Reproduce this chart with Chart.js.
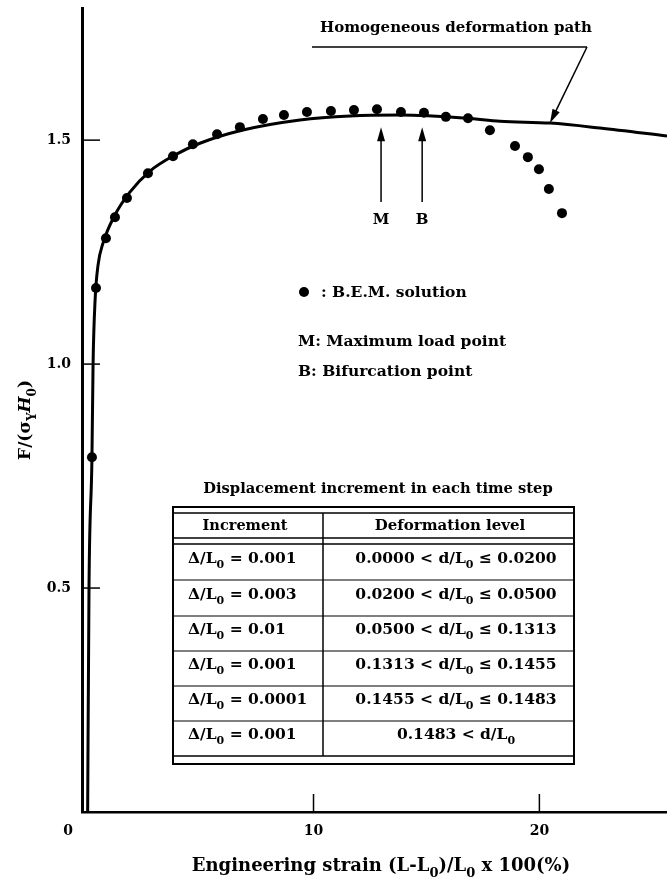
<!DOCTYPE html>
<html>
<head>
<meta charset="utf-8">
<script src="https://cdn.jsdelivr.net/npm/chart.js@4.4.1/dist/chart.umd.min.js"></script>
<style>
  html, body { margin: 0; padding: 0; background: #fff; }
  canvas { display: block; }
</style>
</head>
<body>
<canvas id="strain-chart" width="667" height="886"></canvas>
<script>
// homogeneous deformation path: strain (%) and F/(sigma_Y H_0)
const pathStrain = [0, 0.06, 0.19, 0.24, 0.33, 0.46, 0.68, 1.21, 1.87, 2.76, 3.87, 4.97, 6.83, 9.40, 11.62, 13.83, 16.79, 18.26, 20.47, 22.68, 25.65];
const pathLoad = [0, 0.5, 0.79, 1.0, 1.143, 1.221, 1.27, 1.333, 1.384, 1.431, 1.467, 1.493, 1.522, 1.545, 1.554, 1.556, 1.549, 1.542, 1.538, 1.527, 1.509];

// B.E.M. solution dots
const bemStrain = [0.19, 0.37, 0.81, 1.21, 1.74, 2.67, 3.78, 4.66, 5.73, 6.74, 7.76, 8.69, 9.71, 10.77, 11.79, 12.81, 13.87, 14.89, 15.86, 16.84, 17.81, 18.92, 19.49, 19.98, 20.42, 21.00];
const bemLoad = [0.792, 1.170, 1.281, 1.328, 1.371, 1.426, 1.464, 1.491, 1.513, 1.529, 1.547, 1.556, 1.563, 1.565, 1.567, 1.569, 1.563, 1.561, 1.552, 1.549, 1.522, 1.487, 1.462, 1.435, 1.391, 1.337];

const xTicks = [10, 20];
const yTicks = [0.5, 1.0, 1.5];

// maximum load point and bifurcation point
const markNames = ['M', 'B'];
const markStrain = [12.99, 14.81];

// table
const tableTitle = 'Displacement increment in each time step';
const tableHeader = ['Increment', 'Deformation level'];
const incrementLabels = ['Δ/L_{0} = 0.001', 'Δ/L_{0} = 0.003', 'Δ/L_{0} = 0.01', 'Δ/L_{0} = 0.001', 'Δ/L_{0} = 0.0001', 'Δ/L_{0} = 0.001'];
const levelLabels = ['0.0000 < d/L_{0} ≤ 0.0200', '0.0200 < d/L_{0} ≤ 0.0500', '0.0500 < d/L_{0} ≤ 0.1313', '0.1313 < d/L_{0} ≤ 0.1455', '0.1455 < d/L_{0} ≤ 0.1483', '0.1483 < d/L_{0}'];

const FONT = '"DejaVu Serif"';

function splitRich(str) {
  return str.split(/(_\{[^}]*\}|\*\{[^}]*\})/).filter((s) => s).map((s) => {
    if (s.startsWith('_{')) return { t: s.slice(2, -1), sub: true };
    if (s.startsWith('*{')) return { t: s.slice(2, -1), it: true };
    return { t: s };
  });
}

function richFont(p, size) {
  return (p.it ? 'italic ' : '') + 'bold ' + (p.sub ? Math.round(size * 0.72) : size) + 'px ' + FONT;
}

function drawRich(ctx, str, x, y, size, align) {
  const parts = splitRich(str);
  let w = 0;
  parts.forEach((p) => {
    ctx.font = richFont(p, size);
    p.w = ctx.measureText(p.t).width;
    w += p.w;
  });
  let cx = align === 'center' ? x - w / 2 : align === 'right' ? x - w : x;
  ctx.textAlign = 'left';
  ctx.textBaseline = 'middle';
  parts.forEach((p) => {
    ctx.font = richFont(p, size);
    ctx.fillText(p.t, cx, y + (p.sub ? size * 0.4 : 0));
    cx += p.w;
  });
}

function arrow(ctx, x1, y1, x2, y2) {
  const a = Math.atan2(y2 - y1, x2 - x1);
  ctx.beginPath();
  ctx.moveTo(x1, y1);
  ctx.lineTo(x2 - 8 * Math.cos(a), y2 - 8 * Math.sin(a));
  ctx.stroke();
  ctx.beginPath();
  ctx.moveTo(x2, y2);
  ctx.lineTo(x2 - 14 * Math.cos(a) + 4 * Math.sin(a), y2 - 14 * Math.sin(a) - 4 * Math.cos(a));
  ctx.lineTo(x2 - 14 * Math.cos(a) - 4 * Math.sin(a), y2 - 14 * Math.sin(a) + 4 * Math.cos(a));
  ctx.closePath();
  ctx.fill();
}

const decorations = {
  id: 'decorations',
  afterDraw(chart) {
    const ctx = chart.ctx;
    const xs = chart.scales.x;
    const ys = chart.scales.y;
    const area = chart.chartArea;
    ctx.save();
    ctx.fillStyle = '#000';
    ctx.strokeStyle = '#000';

    // inward ticks
    ctx.lineWidth = 1.5;
    yTicks.forEach((v) => {
      const py = ys.getPixelForValue(v);
      ctx.beginPath();
      ctx.moveTo(area.left, py);
      ctx.lineTo(area.left + 18, py);
      ctx.stroke();
    });
    xTicks.forEach((v) => {
      const px = xs.getPixelForValue(v);
      ctx.beginPath();
      ctx.moveTo(px, area.bottom);
      ctx.lineTo(px, area.bottom - 18);
      ctx.stroke();
    });

    // origin label
    ctx.font = 'bold 14px ' + FONT;
    ctx.textAlign = 'center';
    ctx.textBaseline = 'middle';
    ctx.fillText('0', 68, 831);

    // axis titles
    drawRich(ctx, 'Engineering strain (L-L_{0})/L_{0} x 100(%)', 381, 866, 18, 'center');
    ctx.save();
    ctx.translate(26, 420);
    ctx.rotate(-Math.PI / 2);
    drawRich(ctx, 'F/(σ_{Y}*{H}_{0})', 0, 0, 17, 'center');
    ctx.restore();

    // homogeneous path label with leader
    drawRich(ctx, 'Homogeneous deformation path', 456, 28, 15, 'center');
    ctx.lineWidth = 1.5;
    ctx.beginPath();
    ctx.moveTo(312, 47);
    ctx.lineTo(587, 47);
    ctx.stroke();
    arrow(ctx, 587, 47, xs.getPixelForValue(20.47), ys.getPixelForValue(1.538));

    // M and B arrows
    markNames.forEach((name, i) => {
      const px = xs.getPixelForValue(markStrain[i]);
      ctx.lineWidth = 1.5;
      arrow(ctx, px, ys.getPixelForValue(1.362), px, ys.getPixelForValue(1.529));
      drawRich(ctx, name, px, ys.getPixelForValue(1.321), 15, 'center');
    });

    // legend notes
    ctx.beginPath();
    ctx.arc(304, 292, 5, 0, Math.PI * 2);
    ctx.fill();
    drawRich(ctx, ': B.E.M. solution', 321, 293, 15.5, 'left');
    drawRich(ctx, 'M: Maximum load point', 298, 342, 15.5, 'left');
    drawRich(ctx, 'B: Bifurcation point', 298, 372, 15.5, 'left');

    // table
    const L = 173, R = 574, C = 323;
    const rowLines = [580, 616, 651, 686, 721];
    drawRich(ctx, tableTitle, 378, 489, 14.7, 'center');
    ctx.lineWidth = 2;
    ctx.strokeRect(L, 507, R - L, 257);
    ctx.lineWidth = 1.5;
    [513, 538, 544, 756].forEach((y) => {
      ctx.beginPath();
      ctx.moveTo(L, y);
      ctx.lineTo(R, y);
      ctx.stroke();
    });
    ctx.lineWidth = 1.2;
    rowLines.forEach((y) => {
      ctx.beginPath();
      ctx.moveTo(L, y);
      ctx.lineTo(R, y);
      ctx.stroke();
    });
    ctx.lineWidth = 1.5;
    ctx.beginPath();
    ctx.moveTo(C, 513);
    ctx.lineTo(C, 756);
    ctx.stroke();
    drawRich(ctx, tableHeader[0], 245, 526, 14.5, 'center');
    drawRich(ctx, tableHeader[1], 450, 526, 15, 'center');
    const rowMid = [561, 597, 632, 667, 702, 737];
    incrementLabels.forEach((t, i) => {
      drawRich(ctx, t, 188, rowMid[i] - 2, 15.5, 'left');
      drawRich(ctx, levelLabels[i], 456, rowMid[i] - 2, 15.5, 'center');
    });

    ctx.restore();
  }
};

const ctx = document.getElementById('strain-chart').getContext('2d');
new Chart(ctx, {
  type: 'scatter',
  data: {
    datasets: [
      {
        label: 'Homogeneous deformation path',
        data: pathStrain.map((x, i) => ({ x: x, y: pathLoad[i] })),
        showLine: true,
        borderColor: '#000',
        borderWidth: 3,
        pointRadius: 0,
        cubicInterpolationMode: 'monotone',
      },
      {
        label: 'B.E.M. solution',
        data: bemStrain.map((x, i) => ({ x: x, y: bemLoad[i] })),
        showLine: false,
        pointRadius: 5,
        pointBackgroundColor: '#000',
        pointBorderWidth: 0,
      },
    ],
  },
  options: {
    responsive: false,
    animation: false,
    devicePixelRatio: 1,
    layout: { autoPadding: false, padding: { top: 8, right: 0, left: 0, bottom: 0 } },
    plugins: { legend: { display: false }, tooltip: { enabled: false } },
    scales: {
      x: {
        type: 'linear',
        min: -0.25,
        max: 25.65,
        afterFit: (scale) => {
          scale.height = 74;
          scale.paddingLeft = 0;
          scale.paddingRight = 0;
        },
        afterBuildTicks: (scale) => { scale.ticks = xTicks.map((v) => ({ value: v })); },
        grid: { display: false, drawTicks: false },
        border: { color: '#000', width: 2.5 },
        ticks: { color: '#000', font: { family: 'DejaVu Serif', size: 14, weight: 'bold' }, padding: 11, maxRotation: 0 },
      },
      y: {
        type: 'linear',
        min: 0,
        max: 1.795,
        afterFit: (scale) => {
          scale.width = 82;
          scale.paddingTop = 0;
          scale.paddingBottom = 0;
        },
        afterBuildTicks: (scale) => { scale.ticks = yTicks.map((v) => ({ value: v })); },
        grid: { display: false, drawTicks: false },
        border: { color: '#000', width: 3 },
        ticks: { color: '#000', font: { family: 'DejaVu Serif', size: 14, weight: 'bold' }, padding: 11, callback: (v) => v.toFixed(1) },
      },
    },
  },
  plugins: [decorations],
});
</script>
</body>
</html>
